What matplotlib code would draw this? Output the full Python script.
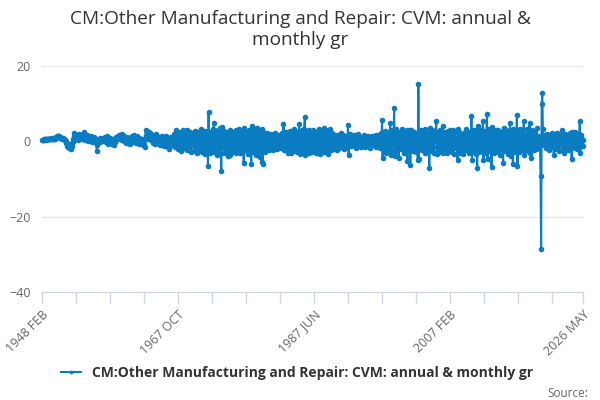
import matplotlib
matplotlib.use("Agg")
import matplotlib.pyplot as plt

# monthly growth, 1948 FEB .. 2026 MAY
g1948_1959 = [
    0.3, 0.4, 0.3, 0.5, 0.4, 0.6, 0.5, 0.4, 0.6, 0.5, 0.7,
    0.6, 0.5, 0.7, 0.6, 0.8, 0.7, 0.5, 0.6, 0.8, 0.9, 0.7, 0.6,
    0.8, 1.0, 1.2, 1.4, 1.5, 1.3, 1.4, 1.2, 1.1, 1.0, 0.8, 0.9,
    0.7, 0.8, 0.6, 0.5, 0.7, 0.4, 0.2, -0.4, -1.2, -0.8, -1.5, -1.1,
    -1.9, -1.4, -0.6, -1.7, -2.0, -1.2, -0.3, 0.6, 1.4, 2.2, 0.8, 1.6,
    0.9, 1.8, 1.1, 0.4, 1.5, 2.0, 1.2, 0.6, 1.7, 0.9, 1.3, 0.7,
    1.9, 1.1, 2.5, 1.4, 0.3, 1.2, 0.5, 1.6, 0.8, 0.2, 1.0, 0.6,
    0.9, 0.4, 1.3, 0.6, -0.2, 0.8, 0.3, 1.1, 0.2, 0.7, -0.4, 0.5,
    -2.6, -1.1, 0.4, -0.5, 0.2, 0.8, -0.3, 0.4, 0.1, 0.6, 0.9, 0.3,
    0.7, 0.2, 1.1, 0.4, -0.3, 0.9, 1.4, 0.5, -0.6, 0.8, 0.3, 1.0,
    -0.2, 0.5, -0.8, 0.1, -0.4, 0.6, -0.9, 0.2, -0.3, 0.4, 1.2, 0.7,
    1.5, 0.9, 1.8, 1.2, 0.6, 1.6, 1.0, 1.9, 0.4, 1.3, 0.8, 1.5,
]
g1960_1969 = [
    0.2, 1.1, -0.5, 0.7, 0.3, 1.2, -0.4, 0.6, 1.0, -0.6, 0.4, 0.9,
    -0.3, 1.4, 0.5, -0.2, 1.6, 0.8, 0.1, 1.0, -0.5, 0.6, 1.3, 0.2,
    0.4, -0.8, 0.9, 0.1, -0.4, 0.7, -0.2, 0.5, -1.1, 0.3, -0.6, -1.5,
    0.6, 3.0, 1.4, 2.2, 0.5, 1.8, 2.6, 0.9, 1.5, 2.1, 0.3, 1.2,
    0.8, -0.4, 1.6, 0.2, 1.1, -0.7, 1.9, 0.5, -0.3, 1.4, 0.1, 0.9,
    -0.5, 1.2, -1.1, 0.6, 0.2, -0.8, 1.5, -0.3, 0.7, -1.2, 0.4, 0.9,
    -0.6, 1.3, 0.1, -1.4, 0.8, -2.1, 0.5, -0.9, 1.2, -0.2, 0.6, -1.0,
    1.1, -0.7, 2.0, 0.3, -1.6, 0.9, 3.0, -0.8, 1.4, -2.0, 2.6, 0.4,
    -1.3, 2.2, 0.6, -2.5, 1.8, -0.4, 2.9, -1.7, 0.8, 2.4, -1.1, 1.5,
    3.1, -2.2, 0.9, 1.7, -1.5, 2.6, -0.6, 1.2, -2.8, 2.0, 0.3, -1.0,
]
g1970_1979 = [
    1.9, -2.6, 2.8, 0.5, -1.9, 1.4, -3.2, 2.5, -0.7, 1.6, -2.3, 0.9,
    -1.4, 3.3, -2.9, 1.1, 2.2, -1.8, 0.7, -3.4, 2.7, -0.5, 1.9, -2.1,
    0.6, -6.6, 7.7, -1.2, 2.4, -3.0, 1.8, -2.5, 1.3, 3.4, -1.7, 4.8,
    -2.9, 3.1, -0.6, 2.3, -3.6, 1.0, 2.7, -1.9, 0.4, -3.3, 3.6, -1.4,
    -8.0, 3.9, 2.1, -1.6, 2.8, -3.1, 0.9, 2.2, -2.7, 1.5, -0.8, -3.8,
    2.6, -1.3, 0.7, -3.5, 3.0, -2.2, 1.2, -0.4, 2.5, -2.9, 1.6, 0.3,
    -1.8, 2.9, -3.2, 1.4, 0.6, -2.4, 3.3, -1.1, 0.8, -3.0, 2.2, -0.5,
    1.7, -2.6, 2.4, -5.8, 3.5, 0.2, -1.9, 2.8, -2.3, 1.0, -3.4, 2.1,
    -0.9, 3.0, -2.1, 1.3, -6.0, 4.0, 0.5, -2.8, 2.3, -1.4, 3.2, -2.0,
    0.8, -3.6, 3.5, -1.7, 2.6, 0.4, -2.5, 1.9, -4.1, 2.7, -5.5, 3.3,
]
g1980_1989 = [
    -6.0, 2.4, -1.3, 0.9, -2.9, 1.6, -0.7, 2.1, -1.8, 0.5, -2.3, 1.2,
    0.3, -1.6, 2.0, -0.8, 1.1, -2.2, 1.5, -0.4, 0.9, -1.9, 2.2, -1.0,
    0.6, -2.0, 1.4, -0.5, 1.8, -1.2, 0.2, 1.0, -1.7, 2.3, -0.6, 0.4,
    4.5, -2.4, 1.2, -1.5, 2.6, -0.9, 0.7, -3.0, 2.0, -0.3, 1.6, -2.2,
    2.8, -3.1, 1.0, 2.3, -2.6, 0.5, -1.4, 3.2, -2.0, 1.3, -0.7, 2.5,
    -2.9, 1.8, -0.6, 4.5, -3.3, 2.0, 0.4, -2.1, 2.9, -1.2, 0.8, -2.7,
    3.4, 6.4, -3.5, 1.1, -1.6, 2.7, -2.4, 0.6, 3.0, -3.0, 1.5, -0.9,
    2.2, -2.8, 1.9, -0.8, 3.1, -2.3, 0.9, -1.5, 2.6, -3.2, 1.3, 0.2,
    -2.5, 3.3, -1.1, 2.0, -3.4, 1.6, -0.4, 2.8, -2.1, 0.7, 3.5, -2.9,
    1.2, -1.9, 3.0, -2.6, 0.8, 2.4, -3.3, 1.7, -0.9, 3.2, -2.2, 1.0,
]
g1990_1999 = [
    -1.5, 2.1, -0.7, 1.4, -2.0, 0.6, 1.8, -1.2, 0.3, -2.4, 1.6, -0.5,
    0.9, -1.8, 1.3, -0.3, 2.2, -1.4, 0.5, -0.9, 1.7, -2.1, 0.4, 1.1,
    -0.8, 1.5, -1.6, 0.7, 4.3, -3.7, 1.2, -0.4, 1.9, -1.3, 0.6, -0.2,
    1.0, -1.1, 0.4, 1.6, -0.9, 0.3, -1.7, 1.4, -0.5, 0.8, 1.9, -1.2,
    0.5, -0.6, 1.2, -1.5, 0.9, 0.1, -1.0, 1.7, -0.3, 0.6, -1.4, 1.1,
    -0.4, 0.8, -1.3, 1.5, -0.2, 0.7, -1.8, 1.0, 0.3, -0.9, 1.3, -0.6,
    1.4, -1.1, 0.6, -0.4, 1.8, -1.6, 0.2, 0.9, -1.2, 1.6, -0.7, 0.4,
    -1.9, 2.3, -1.0, 5.6, -4.5, 1.7, -2.2, 0.9, 2.8, -3.1, 1.2, -0.6,
    2.5, -2.7, 0.4, 1.9, -1.5, 5.0, -3.6, 1.1, -2.3, 2.9, -0.8, 1.6,
    8.8, -3.9, 1.4, -2.6, 3.2, -1.2, 0.5, 2.4, -4.3, 2.0, -0.9, 1.3,
]
g2000_2009 = [
    -2.1, 3.4, -1.6, 0.8, 2.7, -3.0, 1.5, -0.5, 2.2, -1.8, 3.1, -5.3,
    2.6, -1.4, 0.9, 3.0, -6.4, 2.9, -0.7, 1.8, -2.5, 1.1, -1.9, 2.4,
    -0.8, 1.6, -2.9, 2.1, 0.4, -5.0, 15.2, -4.6, 1.3, -2.0, 3.0, -1.1,
    1.9, -2.4, 2.7, -1.0, 0.6, -3.2, 3.3, -1.7, 0.9, 2.2, -2.8, 1.4,
    -1.2, -7.2, 3.6, -0.5, 1.8, -2.6, 2.9, -1.4, 0.7, -3.0, 2.3, 0.2,
    2.6, 5.3, -3.4, 1.0, -1.7, 2.5, -2.2, 0.8, 3.1, -2.9, 1.3, -0.6,
    4.0, -3.1, 1.7, -1.1, 2.4, -2.5, 0.5, 1.9, -3.0, 2.8, -1.5, 0.9,
    -2.3, 2.9, -1.0, 1.6, -2.7, 0.7, 3.0, -3.3, 1.2, -0.8, 2.4, -1.9,
    0.6, -1.6, -5.0, 3.2, -2.1, 1.4, -3.0, 2.3, -1.2, 0.5, -2.6, 1.8,
    -3.4, 2.2, 0.4, -1.9, 3.3, -2.4, 1.1, -0.6, 2.6, -3.1, 1.7, -0.9,
]
g2010_2019 = [
    2.5, -2.2, 6.6, -5.0, 2.1, -1.3, 3.0, -2.8, 0.9, 1.8, -3.3, 2.4,
    -7.0, 4.1, -1.5, 2.6, -2.9, 1.2, -0.4, 3.1, -2.4, 0.8, 5.5, -5.0,
    2.7, -1.6, 0.9, -3.0, 2.2, 7.2, -4.7, 1.5, -2.6, 3.3, -1.8, 0.6,
    2.1, -6.7, 3.8, -1.2, 2.5, -3.2, 1.0, -0.6, 2.9, -2.4, 1.6, -1.1,
    -2.8, 3.0, -1.4, 2.2, -3.5, 1.3, 0.4, -2.0, 2.7, -5.8, 3.6, -0.9,
    1.8, -2.5, 3.1, -1.7, 0.6, 2.4, -3.3, 1.5, -0.5, 5.0, -3.9, 1.1,
    -2.2, 2.8, -6.0, 3.2, -1.0, 1.9, -2.7, 0.8, 2.3, 7.0, -6.5, 2.6,
    1.4, -2.9, 3.4, -1.6, 0.5, -2.2, 2.7, -0.7, 1.3, 5.5, -3.6, 0.9,
    -2.4, 2.0, -1.1, 3.2, -2.6, 1.0, 2.5, 5.0, -3.1, 1.6, -4.4, 2.9,
    -1.5, 2.2, 1.2, -2.3, 0.6, 1.7, -2.0, 3.5, -1.2, 0.4, -1.8, 1.3,
]
g2020_2026 = [
    0.8, -0.6, -9.3, -28.5, 10.0, 12.7, 3.2, 1.1, -0.9, 1.6, -0.4, 1.2,
    -1.8, 0.9, 2.0, -0.7, 1.3, -2.2, 0.5, 1.8, -1.0, 0.3, 2.1, -1.4,
    0.6, -3.5, 1.9, -0.8, 1.4, -2.0, 2.3, -1.2, 0.2, 1.5, -2.6, 0.9,
    -1.1, 1.7, -0.4, 3.0, -2.3, 0.8, 1.2, -3.1, 2.0, -0.6, 1.4, -1.7,
    0.5, -2.4, 1.6, 0.1, -1.5, 2.2, -0.8, 1.0, -4.7, 2.6, -1.2, 0.7,
    1.3, -1.9, 2.4, -0.6, 0.9, -2.1, 1.5, -0.3, 2.0, -1.4, 5.5, -3.2,
    1.6, -0.8, 0.6, -1.2, 0.3,
]

values = g1948_1959 + g1960_1969 + g1970_1979 + g1980_1989 + g1990_1999 + g2000_2009 + g2010_2019 + g2020_2026
months = ["JAN", "FEB", "MAR", "APR", "MAY", "JUN", "JUL", "AUG", "SEP", "OCT", "NOV", "DEC"]
labels = []
for k in range(len(values)):
    m = k + 1  # start at FEB
    labels.append(f"{1948 + m // 12} {months[m % 12]}")

title = "CM:Other Manufacturing and Repair: CVM: annual &\nmonthly gr"
series_name = "CM:Other Manufacturing and Repair: CVM: annual & monthly gr"

plt.rcParams['font.family'] = ['Open Sans', 'DejaVu Sans']
fig = plt.figure(figsize=(6, 4), dpi=100)
ax = fig.add_axes([0.07, 0.27, 0.902, 0.565])

x = list(range(len(values)))
line, = ax.plot(x, values, color='#0a7cc1', linewidth=1.5, marker='o', markersize=3,
                clip_on=False, label=series_name)

n = len(values)
ax.set_xlim(0, n - 1)
ax.set_ylim(-40, 20)
ax.set_yticks([-40, -20, 0, 20])
ax.grid(axis='y', color='#e6e6e6', linewidth=1)
ax.set_axisbelow(True)
for s in ['left', 'right', 'top']:
    ax.spines[s].set_visible(False)
ax.spines['bottom'].set_color('#ccd6eb')

ticks = list(range(0, n, 59)) + [n - 1]
ax.set_xticks(ticks)
ax.set_xticklabels([labels[t] if (t % 236 == 0 or t == n - 1) else '' for t in ticks],
                   rotation=45, ha='right', rotation_mode='anchor')
ax.tick_params(axis='x', colors='#ccd6eb', length=8, width=1, labelcolor='#666666', labelsize=9)
ax.tick_params(axis='y', length=0, labelcolor='#666666', labelsize=9, pad=8)

fig.suptitle(title, y=0.975, fontsize=13.7, color='#333333')
fig.legend(handles=[line], loc='center', bbox_to_anchor=(0.495, 0.068), frameon=False,
           prop={'weight': 'bold', 'size': 10}, labelcolor='#333333',
           handlelength=1.4, markerscale=0.6)
fig.text(0.98, 0.008, "Source:", ha='right', fontsize=8.5, color='#666666')

fig.savefig("out.png", dpi=100)
